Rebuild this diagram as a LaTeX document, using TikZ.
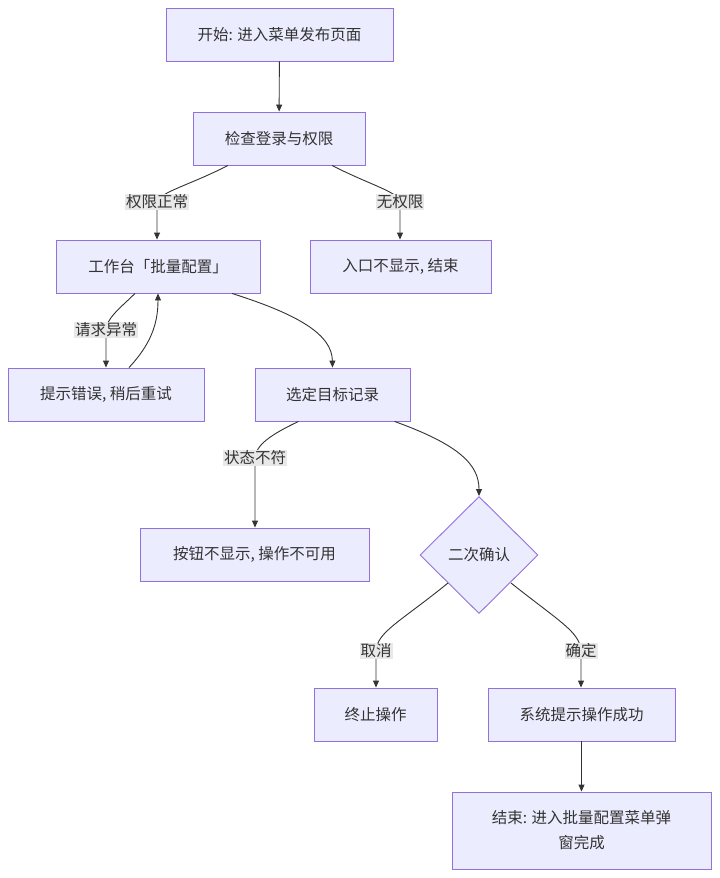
\documentclass[tikz,border=0pt]{standalone}
\usepackage{fontspec}
\setmainfont{Noto Sans CJK SC}
\usetikzlibrary{shapes.geometric,arrows.meta,calc}
\definecolor{boxfill}{HTML}{ECECFF}
\definecolor{boxline}{HTML}{9370DB}
\definecolor{edge}{HTML}{333333}
\definecolor{lblbg}{HTML}{E8E8E8}
\definecolor{txt}{HTML}{333333}
\tikzset{
  box/.style={draw=boxline, fill=boxfill, line width=0.9pt, inner sep=0pt, minimum height=53, text=txt, font=\fontsize{15.5}{25}\selectfont},
  dia/.style={diamond, draw=boxline, fill=boxfill, line width=0.9pt, inner sep=0pt, minimum width=118, minimum height=117, text=txt, font=\fontsize{15.5}{25}\selectfont},
  lbl/.style={fill=lblbg, inner sep=1pt, text=txt, font=\fontsize{15.5}{20}\selectfont},
  arr/.style={draw=edge, line width=0.9pt, -{Triangle[length=7pt,width=6pt]}},
}
\begin{document}
\begin{tikzpicture}[x=1pt,y=-1pt]
\useasboundingbox[fill=white] (0,0) rectangle (720,878);
\node[box, minimum width=227] (n1) at (279.5,34.5) {开始: 进入菜单发布页面};
\node[box, minimum width=172] (n2) at (279,138.5) {检查登录与权限};
\node[box, minimum width=204] (n3) at (158,266.5) {工作台「批量配置」};
\node[box, minimum width=181] (n4) at (400.5,266.5) {入口不显示, 结束};
\node[box, minimum width=196] (n5) at (106,394.5) {提示错误, 稍后重试};
\node[box, minimum width=155] (n6) at (332.5,394.5) {选定目标记录};
\node[box, minimum width=229] (n7) at (254.5,554.5) {按钮不显示, 操作不可用};
\node[dia] (n8) at (479,555) {二次确认};
\node[box, minimum width=123] (n9) at (375.5,714.5) {终止操作};
\node[box, minimum width=187] (n10) at (581.5,714.5) {系统提示操作成功};
\node[box, minimum width=259, minimum height=77, align=center] (n11) at (581.5,830.5) {结束: 进入批量配置菜单弹\\窗完成};

\coordinate (c1) at (157,202);
\coordinate (c2) at (400,202);
\coordinate (c3) at (106,330);
\coordinate (c4) at (255,458);
\coordinate (c5) at (376,651);
\coordinate (c6) at (581,651);

\draw[arr] (n1) -- (n2);
\draw[arr] ($(n2.south)+(-51,0)$) .. controls (190,185) and (160,192) .. (c1) .. controls (157,222) .. (n3.north -| c1);
\draw[arr] ($(n2.south)+(53,0)$) .. controls (370,185) and (399,192) .. (c2) .. controls (400,222) .. (n4.north -| c2);
\draw[arr] ($(n3.south)+(-23,0)$) .. controls (118,310) and (107,318) .. (c3) .. controls (106,350) .. (n5.north -| c3);
\draw[arr] ($(n5.north)+(23,0)$) .. controls (150,345) and (158,325) .. (n3.south);
\draw[arr] ($(n3.south)+(74,0)$) .. controls (300,315) and (332,335) .. (n6.north);
\draw[arr] ($(n6.south)+(-34,0)$) .. controls (270,435) and (256,445) .. (c4) .. controls (255,490) .. (n7.north -| c4);
\draw[arr] ($(n6.south)+(62,0)$) .. controls (460,445) and (479,465) .. (n8.north);
\draw[arr] ($(n8.center)+(-31,28)$) .. controls (400,622) and (377,632) .. (c5) .. controls (376,665) .. (n9.north -| c5);
\draw[arr] ($(n8.center)+(32,28)$) .. controls (560,622) and (580,632) .. (c6) .. controls (581,665) .. (n10.north -| c6);
\draw[arr] (n10) -- (n11);

\node[lbl] (l1) at (c1) {权限正常};
\node[lbl] (l2) at (c2) {无权限};
\node[lbl] (l3) at (c3) {请求异常};
\node[lbl] (l4) at (c4) {状态不符};
\node[lbl] (l5) at (c5) {取消};
\node[lbl] (l6) at (c6) {确定};
\end{tikzpicture}
\end{document}
